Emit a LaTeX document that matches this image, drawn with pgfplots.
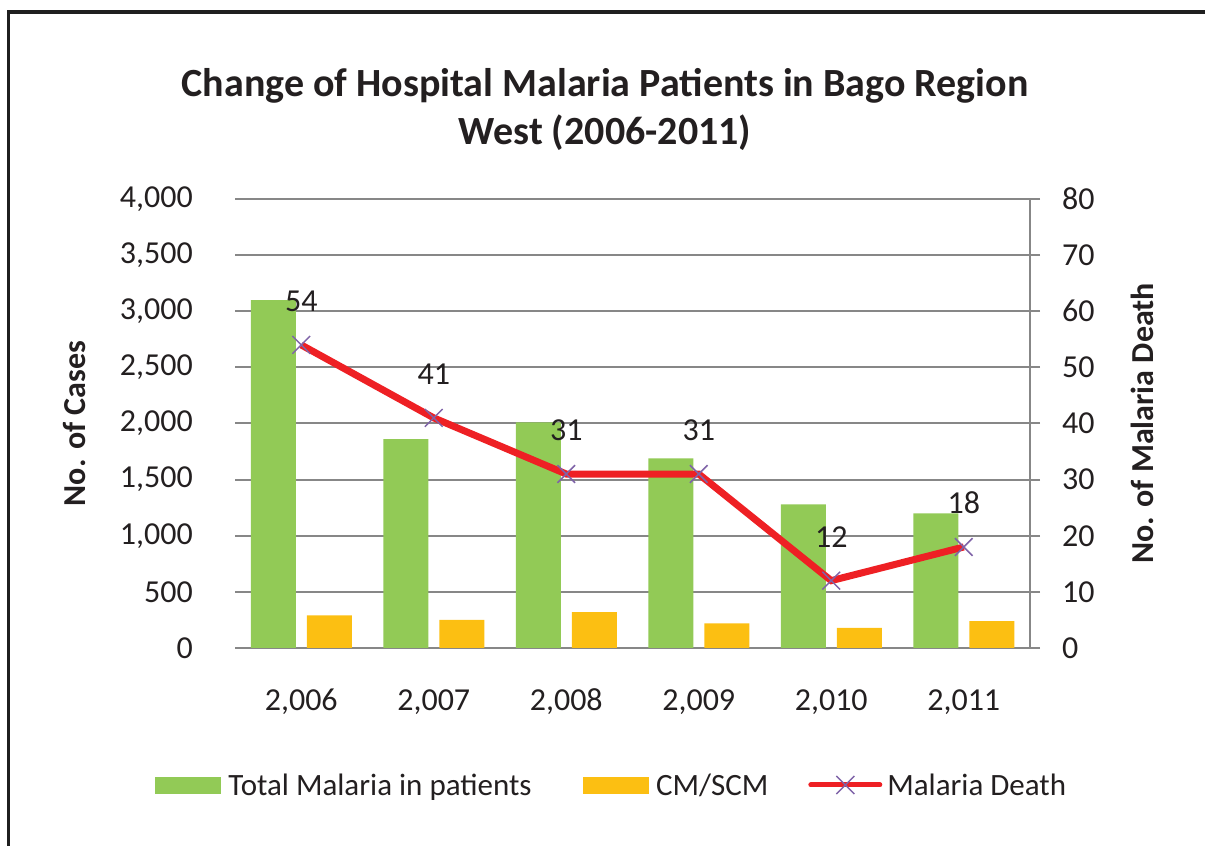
\documentclass[border=0pt]{standalone}
\usepackage{pgfplots}
\pgfplotsset{compat=1.18}
\usepackage{fontspec}
\setmainfont{Carlito}
\definecolor{gbar}{HTML}{92CA56}
\definecolor{cmcol}{HTML}{FCBF12}
\definecolor{redl}{HTML}{EE2024}
\definecolor{purp}{HTML}{7F63A8}
\definecolor{gridc}{HTML}{878787}
\definecolor{txt}{HTML}{231F20}

\pgfplotstableread{
x total cm
0 3100 290
1 1860 250
2 2010 320
3 1690 220
4 1280 180
5 1200 240
}\cases

\pgfplotstableread{
x death
0 54
1 41
2 31
3 31
4 12
5 18
}\deaths

\begin{document}
\begin{tikzpicture}[x=1pt,y=1pt]
\useasboundingbox (0,0) rectangle (1205,846);
\draw[line width=3.5pt, black!88] (8.5,-20) -- (8.5,834) -- (1225,834);
\node[font=\bfseries\fontsize{40}{48}\selectfont, align=center, text=txt] at (605,737)
  {Change of Hospital Malaria Patients in Bago Region\\West (2006-2011)};

\begin{axis}[
  at={(235pt,198pt)}, anchor=south west,
  scale only axis, width=795pt, height=449pt,
  xmin=-0.5, xmax=5.5, ymin=0, ymax=4000,
  xtick={0,...,5},
  xticklabels={{2,006},{2,007},{2,008},{2,009},{2,010},{2,011}},
  ytick={0,500,...,4000},
  axis x line*=bottom, axis y line*=left,
  y axis line style={draw=none},
  x axis line style={gridc, line width=2.5pt},
  major tick length=0pt,
  ymajorgrids, grid style={gridc, line width=2pt},
  /pgf/number format/assume math mode=true,
  /pgf/number format/1000 sep={,},
  tick label style={font=\fontsize{32}{38}\selectfont, text=txt},
  yticklabel style={anchor=east, inner sep=0pt, xshift=-42pt},
  xticklabel style={anchor=base, inner sep=0pt, yshift=-63pt},
  every axis y label/.style={at={(axis description cs:-0.2025,0.5)}, anchor=center, rotate=90,
    font=\bfseries\fontsize{32}{38}\selectfont, text=txt},
  ylabel={No. of Cases},
  ybar, bar width=45pt,
]
\addplot[fill=gbar, draw=none, bar shift=-28pt] table[x=x, y=total] {\cases};
\addplot[fill=cmcol, draw=none, bar shift=28pt] table[x=x, y=cm] {\cases};
\end{axis}

\begin{axis}[
  at={(235pt,198pt)}, anchor=south west,
  scale only axis, width=795pt, height=449pt,
  xmin=-0.5, xmax=5.5, ymin=0, ymax=80,
  ytick={0,10,...,80},
  axis x line=none, axis y line*=right,
  y axis line style={gridc, line width=2.5pt},
  tick align=outside, major tick length=10pt,
  every tick/.style={gridc, line width=2pt},
  tick label style={font=\fontsize{32}{38}\selectfont, text=txt},
  yticklabel style={anchor=west, inner sep=0pt, xshift=22pt},
  /pgf/number format/assume math mode=true,
  every axis y label/.style={at={(axis description cs:1.1409,0.5)}, anchor=center, rotate=90,
    font=\bfseries\fontsize{32}{38}\selectfont, text=txt},
  ylabel={No. of Malaria Death},
  legend columns=3,
  legend style={at={(axis description cs:-0.1006,-0.3051)}, anchor=west,
    draw=none, fill=none, inner sep=0pt, outer sep=0pt,
    font=\fontsize{31}{37}\selectfont, text=txt,
    nodes={inner sep=0pt, anchor=west},
    /tikz/column 1/.style={column sep=8pt},
    /tikz/column 2/.style={column sep=51pt},
    /tikz/column 3/.style={column sep=8pt},
    /tikz/column 4/.style={column sep=40pt},
    /tikz/column 5/.style={column sep=5pt},
  },
]
\addlegendimage{legend image code/.code={\fill[gbar] (0pt,-8pt) rectangle (65pt,8pt);}}
\addlegendentry{Total Malaria in patients}
\addlegendimage{legend image code/.code={\fill[cmcol] (0pt,-8pt) rectangle (65pt,8pt);}}
\addlegendentry{CM/SCM}
\addplot[redl, line width=7pt, mark=x, mark size=12.5pt,
  mark options={purp, line width=1.5pt},
  legend image code/.code={
    \draw[redl, line width=5pt, line cap=round] (0pt,0pt) -- (69pt,0pt);
    \draw[purp, line width=1.5pt] (25.5pt,-9pt) -- (43.5pt,9pt) (25.5pt,9pt) -- (43.5pt,-9pt);},
  nodes near coords,
  every node near coord/.append style={anchor=center, yshift=44pt,
    font=\fontsize{32}{38}\selectfont, text=txt},
] table[x=x, y=death] {\deaths};
\addlegendentry{Malaria Death}
\end{axis}
\end{tikzpicture}
\end{document}
